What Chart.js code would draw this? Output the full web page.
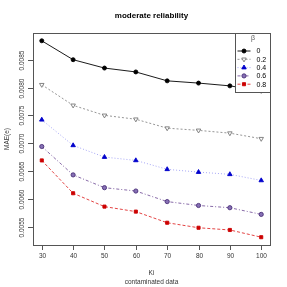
<!DOCTYPE html>
<html>
<head>
<meta charset="utf-8">
<script src="https://cdn.jsdelivr.net/npm/chart.js@4"></script>
<style>
  html, body { margin: 0; padding: 0; background: #fff; }
  #wrap { width: 287px; height: 287px; }
</style>
</head>
<body>
<div id="wrap"><canvas id="chart"></canvas></div>
<script>
// values
const ki = [30, 40, 50, 60, 70, 80, 90, 100];
const beta0  = [0.00884, 0.00850, 0.00835, 0.00828, 0.00812, 0.00808, 0.00803, 0.00794];
const beta02 = [0.00805, 0.00768, 0.00750, 0.00743, 0.00727, 0.00723, 0.00718, 0.00708];
const beta04 = [0.00742, 0.00696, 0.00675, 0.00669, 0.00653, 0.00648, 0.00644, 0.00633];
const beta06 = [0.00694, 0.00643, 0.00620, 0.00614, 0.00595, 0.00588, 0.00584, 0.00572];
const beta08 = [0.00669, 0.00610, 0.00586, 0.00577, 0.00557, 0.00548, 0.00544, 0.00531];
const betaLabels = ['0', '0.2', '0.4', '0.6', '0.8'];
const xTicks = [30, 40, 50, 60, 70, 80, 90, 100];
const yTicks = [0.0055, 0.0060, 0.0065, 0.0070, 0.0075, 0.0080, 0.0085];

const FONT = '"Liberation Sans", Arial, sans-serif';

const styles = [
  { line: '#000000', point: '#000000', fill: '#000000', dash: [], pointStyle: 'circle', r: 2 },
  { line: '#8a8a8a', point: '#777777', fill: '#ffffff', dash: [2, 2], pointStyle: 'triangle', rot: 180, r: 2.6 },
  { line: '#9e9ef5', point: '#0000cc', fill: '#0000cc', dash: [1, 2], pointStyle: 'triangle', r: 2.6 },
  { line: '#7a5a9e', point: '#4a2f78', fill: '#8670b4', dash: [3, 2, 1, 2], pointStyle: 'circle', r: 2.1 },
  { line: '#e03030', point: '#cc0000', fill: '#cc0000', dash: [3, 2], pointStyle: 'rect', r: 2.2 }
];
const series = [beta0, beta02, beta04, beta06, beta08];

const datasets = series.map((vals, i) => {
  const s = styles[i];
  return {
    label: betaLabels[i],
    data: ki.map((k, j) => ({ x: k, y: vals[j] })),
    borderColor: s.line,
    borderWidth: 0.9,
    borderDash: s.dash,
    pointStyle: s.pointStyle,
    rotation: s.rot || 0,
    pointRadius: s.r,
    pointBorderWidth: 0.9,
    pointBorderColor: s.point,
    pointBackgroundColor: s.fill,
    tension: 0
  };
});

// R-style box, axes, titles and legend
const rAxes = {
  id: 'rAxes',
  afterDraw(chart) {
    const ctx = chart.ctx;
    const a = chart.chartArea;
    const xs = chart.scales.x, ys = chart.scales.y;
    ctx.save();
    ctx.strokeStyle = '#555';
    ctx.lineWidth = 1;
    ctx.strokeRect(a.left + 0.5, a.top + 0.5, a.right - a.left, a.bottom - a.top);

    ctx.fillStyle = '#333';
    ctx.font = '6.5px ' + FONT;
    // x axis
    ctx.textAlign = 'center';
    ctx.textBaseline = 'middle';
    xTicks.forEach(t => {
      const px = Math.round(xs.getPixelForValue(t)) + 0.5;
      ctx.beginPath();
      ctx.moveTo(px, a.bottom);
      ctx.lineTo(px, a.bottom + 5);
      ctx.stroke();
      ctx.fillText(String(t), px, a.bottom + 11);
    });
    // y axis
    yTicks.forEach(t => {
      const py = Math.round(ys.getPixelForValue(t)) + 0.5;
      ctx.beginPath();
      ctx.moveTo(a.left, py);
      ctx.lineTo(a.left - 5, py);
      ctx.stroke();
      ctx.save();
      ctx.translate(a.left - 11, py);
      ctx.rotate(-Math.PI / 2);
      ctx.fillText(t.toFixed(4), 0, 0);
      ctx.restore();
    });

    // titles
    ctx.fillStyle = '#000';
    ctx.font = 'bold 8px ' + FONT;
    ctx.fillText('moderate reliability', (a.left + a.right) / 2, 16);
    ctx.font = '6.5px ' + FONT;
    ctx.fillStyle = '#333';
    ctx.fillText('Ki', (a.left + a.right) / 2, 273);
    ctx.fillText('contaminated data', (a.left + a.right) / 2, 282);
    ctx.save();
    ctx.translate(7, (a.top + a.bottom) / 2);
    ctx.rotate(-Math.PI / 2);
    ctx.fillText('MAE(e)', 0, 0);
    ctx.restore();

    // legend box in the top right corner
    const lx = 235.5, lw = a.right - 235, ly = a.top + 0.5, lh = 59;
    ctx.fillStyle = '#fff';
    ctx.fillRect(lx, ly, lw, lh);
    ctx.strokeStyle = '#555';
    ctx.strokeRect(lx, ly, lw, lh);
    ctx.fillStyle = '#555';
    ctx.font = '7px ' + FONT;
    ctx.fillText('\u03b2', lx + lw / 2, ly + 4.5);
    chart.data.datasets.forEach((ds, i) => {
      const y = ly + 17.5 + i * 8.3;
      const x0 = lx + 2, x1 = lx + 15;
      ctx.save();
      ctx.strokeStyle = ds.borderColor;
      ctx.lineWidth = 0.9;
      ctx.setLineDash(ds.borderDash);
      ctx.beginPath();
      ctx.moveTo(x0, y);
      ctx.lineTo(x1, y);
      ctx.stroke();
      ctx.restore();
      ctx.save();
      ctx.fillStyle = ds.pointBackgroundColor;
      ctx.strokeStyle = ds.pointBorderColor;
      ctx.lineWidth = 0.9;
      Chart.helpers.drawPoint(ctx, {
        pointStyle: ds.pointStyle, rotation: ds.rotation,
        radius: ds.pointRadius, borderWidth: 0.9
      }, (x0 + x1) / 2, y);
      ctx.restore();
      ctx.fillStyle = '#000';
      ctx.font = '7px ' + FONT;
      ctx.textAlign = 'left';
      ctx.fillText(ds.label, lx + 21, y + 0.5);
      ctx.textAlign = 'center';
    });
    ctx.restore();
  }
};

new Chart(document.getElementById('chart').getContext('2d'), {
  type: 'line',
  data: { datasets },
  options: {
    responsive: true,
    maintainAspectRatio: false,
    animation: false,
    layout: { padding: { left: 33, right: 17, top: 33, bottom: 42 } },
    plugins: { legend: { display: false }, tooltip: { enabled: false } },
    scales: {
      x: { type: 'linear', display: false, min: 27.2, max: 102.8 },
      y: { type: 'linear', display: false, min: 0.00517, max: 0.00898 }
    }
  },
  plugins: [rAxes]
});
</script>
</body>
</html>
